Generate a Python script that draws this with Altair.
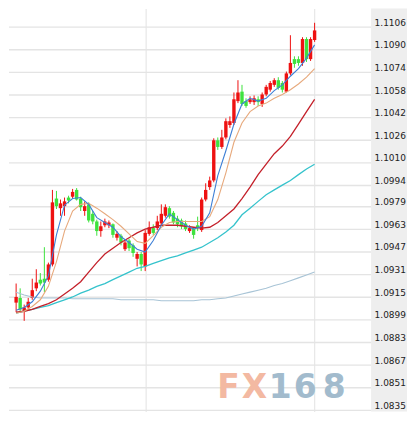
import altair as alt
import pandas as pd

# ---- candle data (EURUSD) ----
candle_idx = list(range(75))
opens = [1.09112, 1.09145, 1.09051, 1.09078, 1.09145, 1.09213, 1.09274, 1.09281, 1.09274, 1.09382,
         1.09848, 1.09780, 1.09794, 1.09855, 1.09861, 1.09909, 1.09848, 1.09760, 1.09807, 1.09740,
         1.09686, 1.09618, 1.09659, 1.09659, 1.09666, 1.09571, 1.09585, 1.09490, 1.09551, 1.09517,
         1.09422, 1.09456, 1.09368, 1.09598, 1.09639, 1.09639, 1.09672, 1.09726, 1.09780, 1.09747,
         1.09706, 1.09693, 1.09672, 1.09618, 1.09632, 1.09659, 1.09625, 1.09841, 1.09929, 1.09976,
         1.10260, 1.10213, 1.10280, 1.10368, 1.10382, 1.10537, 1.10604, 1.10537, 1.10530, 1.10530,
         1.10550, 1.10517, 1.10584, 1.10618, 1.10652, 1.10685, 1.10665, 1.10604, 1.10733, 1.10834,
         1.10834, 1.10807, 1.10976, 1.10834, 1.10969]
highs = [1.09247, 1.09213, 1.09098, 1.09145, 1.09281, 1.09348, 1.09321, 1.09504, 1.09395, 1.09909,
         1.09902, 1.09841, 1.09855, 1.09868, 1.09916, 1.09922, 1.09861, 1.09828, 1.09821, 1.09760,
         1.09699, 1.09686, 1.09706, 1.09693, 1.09672, 1.09618, 1.09598, 1.09551, 1.09564, 1.09531,
         1.09470, 1.09470, 1.09625, 1.09686, 1.09666, 1.09726, 1.09807, 1.09807, 1.09794, 1.09760,
         1.09726, 1.09706, 1.09693, 1.09659, 1.09645, 1.09720, 1.09855, 1.09956, 1.10003, 1.10274,
         1.10280, 1.10334, 1.10415, 1.10429, 1.10598, 1.10685, 1.10652, 1.10557, 1.10571, 1.10577,
         1.10571, 1.10598, 1.10652, 1.10679, 1.10699, 1.10706, 1.10679, 1.10746, 1.11003, 1.10854,
         1.10854, 1.10989, 1.10989, 1.10989, 1.11091]
lows = [1.09044, 1.09044, 1.08983, 1.09058, 1.09132, 1.09193, 1.09233, 1.09186, 1.09260, 1.09368,
        1.09774, 1.09726, 1.09726, 1.09814, 1.09848, 1.09834, 1.09760, 1.09726, 1.09679, 1.09666,
        1.09585, 1.09578, 1.09645, 1.09639, 1.09571, 1.09551, 1.09517, 1.09477, 1.09477, 1.09436,
        1.09368, 1.09335, 1.09335, 1.09585, 1.09591, 1.09625, 1.09659, 1.09713, 1.09706, 1.09666,
        1.09645, 1.09632, 1.09618, 1.09605, 1.09564, 1.09618, 1.09612, 1.09828, 1.09909, 1.09963,
        1.10192, 1.10199, 1.10267, 1.10348, 1.10368, 1.10523, 1.10503, 1.10490, 1.10517, 1.10510,
        1.10503, 1.10496, 1.10571, 1.10604, 1.10638, 1.10618, 1.10598, 1.10598, 1.10719, 1.10773,
        1.10787, 1.10787, 1.10814, 1.10821, 1.10956]
closes = [1.09152, 1.09064, 1.09078, 1.09118, 1.09200, 1.09254, 1.09247, 1.09254, 1.09382, 1.09821,
          1.09794, 1.09814, 1.09828, 1.09834, 1.09895, 1.09841, 1.09787, 1.09794, 1.09693, 1.09686,
          1.09618, 1.09652, 1.09686, 1.09679, 1.09591, 1.09598, 1.09537, 1.09537, 1.09497, 1.09463,
          1.09456, 1.09382, 1.09605, 1.09645, 1.09605, 1.09686, 1.09740, 1.09787, 1.09720, 1.09679,
          1.09666, 1.09652, 1.09632, 1.09639, 1.09591, 1.09639, 1.09841, 1.09909, 1.09976, 1.10260,
          1.10213, 1.10280, 1.10395, 1.10395, 1.10550, 1.10598, 1.10517, 1.10503, 1.10550, 1.10557,
          1.10530, 1.10584, 1.10638, 1.10665, 1.10685, 1.10631, 1.10618, 1.10733, 1.10807, 1.10800,
          1.10807, 1.10976, 1.10834, 1.10976, 1.11037]

# ---- moving averages, read every second candle ----
ma_idx = list(range(0, 75, 2))
ma_blue = [1.09058, 1.09078, 1.09118, 1.09193, 1.09301, 1.09591, 1.09801, 1.09848, 1.09855, 1.09807,
           1.09713, 1.09679, 1.09645, 1.09578, 1.09537, 1.09490, 1.09470, 1.09551, 1.09659, 1.09740,
           1.09699, 1.09659, 1.09632, 1.09652, 1.09747, 1.10010, 1.10186, 1.10375, 1.10517, 1.10557,
           1.10537, 1.10557, 1.10611, 1.10652, 1.10713, 1.10767, 1.10841, 1.10935]
ma_tan = [1.09037, 1.09051, 1.09085, 1.09132, 1.09227, 1.09402, 1.09618, 1.09760, 1.09807, 1.09814,
          1.09780, 1.09740, 1.09699, 1.09652, 1.09598, 1.09544, 1.09531, 1.09585, 1.09645, 1.09679,
          1.09686, 1.09686, 1.09686, 1.09686, 1.09720, 1.09841, 1.10030, 1.10246, 1.10382, 1.10463,
          1.10503, 1.10523, 1.10557, 1.10584, 1.10618, 1.10658, 1.10706, 1.10767]
ma_red = [1.09044, 1.09051, 1.09064, 1.09085, 1.09105, 1.09132, 1.09173, 1.09213, 1.09260, 1.09328,
          1.09395, 1.09456, 1.09497, 1.09537, 1.09571, 1.09605, 1.09632, 1.09645, 1.09659, 1.09659,
          1.09659, 1.09652, 1.09645, 1.09639, 1.09645, 1.09679, 1.09726, 1.09774, 1.09848, 1.09929,
          1.10017, 1.10091, 1.10165, 1.10219, 1.10287, 1.10375, 1.10463, 1.10550]
ma_cyan = [1.09037, 1.09051, 1.09064, 1.09078, 1.09091, 1.09112, 1.09132, 1.09152, 1.09179, 1.09200,
           1.09227, 1.09247, 1.09274, 1.09301, 1.09328, 1.09355, 1.09368, 1.09389, 1.09409, 1.09429,
           1.09443, 1.09463, 1.09483, 1.09504, 1.09537, 1.09571, 1.09612, 1.09659, 1.09733, 1.09780,
           1.09828, 1.09875, 1.09909, 1.09943, 1.09976, 1.10017, 1.10057, 1.10091]
ma_light = [1.09186, 1.09166, 1.09152, 1.09145, 1.09145, 1.09145, 1.09145, 1.09139, 1.09139, 1.09139,
            1.09139, 1.09139, 1.09139, 1.09132, 1.09132, 1.09132, 1.09132, 1.09132, 1.09125, 1.09125,
            1.09125, 1.09125, 1.09125, 1.09132, 1.09132, 1.09139, 1.09145, 1.09159, 1.09173, 1.09186,
            1.09200, 1.09213, 1.09233, 1.09247, 1.09267, 1.09287, 1.09308, 1.09328]

# ---- axis ticks ----
price_ticks = [1.1106, 1.1090, 1.1074, 1.1058, 1.1042, 1.1026, 1.1010, 1.0994, 1.0979,
               1.0963, 1.0947, 1.0931, 1.0915, 1.0899, 1.0883, 1.0867, 1.0851, 1.0835]
date_grid_idx = [32, 74]

W, H = 363, 404
x_scale = alt.Scale(domain=[-0.531, 86.77], nice=False, zero=False)
y_scale = alt.Scale(domain=[1.08342, 1.11192], nice=False, zero=False)

x_axis = alt.Axis(values=date_grid_idx, grid=True, gridColor="#e2e2e2", gridWidth=1,
                  labels=False, ticks=False, domain=False, title=None, zindex=0)
y_axis = alt.Axis(orient="right", values=price_ticks, format=".4f", grid=False, domain=False,
                  ticks=False, labelPadding=3, labelFont="DejaVu Sans", labelFontSize=9,
                  labelColor="#222222", labelBaseline="bottom", labelOverlap=False,
                  labelBound=False, labelFlush=False, title=None, zindex=1)


def X(field):
    return alt.X(field, type="quantitative", scale=x_scale, axis=x_axis)


def Y(field):
    return alt.Y(field, type="quantitative", scale=y_scale, axis=y_axis)


cdf = pd.DataFrame({"i": candle_idx, "open": opens, "high": highs, "low": lows, "close": closes})
cdf["dir"] = ["up" if c >= o else "down" for o, c in zip(opens, closes)]
ccolor = alt.Color("dir:N", scale=alt.Scale(domain=["up", "down"], range=["#ee1111", "#3ee23e"]),
                   legend=None)

panel = alt.Chart(pd.DataFrame({"a": [0]})).mark_rect(color="#eeeeee").encode(
    x=alt.value(W), x2=alt.value(W + 36), y=alt.value(0), y2=alt.value(H))

hgrid = alt.Chart(pd.DataFrame({"p": price_ticks})).mark_rule(color="#e4e4e4", strokeWidth=1.4).encode(
    y=Y("p"), x=alt.value(0), x2=alt.value(W))

wicks = alt.Chart(cdf).mark_rule(strokeWidth=1).encode(x=X("i"), y=Y("low"), y2="high:Q", color=ccolor)
bodies = alt.Chart(cdf).mark_bar(size=3.4).encode(x=X("i"), y=Y("open"), y2="close:Q", color=ccolor)

line_specs = [
    (ma_light, "#a8c4d6", 1.1),
    (ma_cyan, "#35c3cc", 1.3),
    (ma_red, "#c4202a", 1.3),
    (ma_tan, "#e7a97c", 1.1),
    (ma_blue, "#3d7fd6", 1.1),
]
lines = []
for vals, col, sw in line_specs:
    ldf = pd.DataFrame({"i": ma_idx, "v": vals})
    lines.append(alt.Chart(ldf).mark_line(color=col, strokeWidth=sw).encode(x=X("i"), y=Y("v")))

wm = alt.Chart(pd.DataFrame({"a": [0]}))
marks_text = []
for ch, cx, col in [("F", 220, "#f3b9a2"), ("X", 246, "#f3b9a2"),
                    ("1", 272, "#a2bbcd"), ("6", 297, "#a2bbcd"), ("8", 326, "#a2bbcd")]:
    marks_text.append(
        wm.mark_text(text=ch, font="DejaVu Sans", fontWeight="bold", fontSize=33,
                     color=col, align="center", baseline="alphabetic").encode(
            x=alt.value(cx), y=alt.value(390)))

chart = alt.layer(panel, hgrid, *marks_text, wicks, bodies, *lines).properties(
    width=W, height=H, padding=0, background="white"
).configure_view(stroke=None)

chart.save("out.html", embed_options={"renderer": "svg", "actions": False})
